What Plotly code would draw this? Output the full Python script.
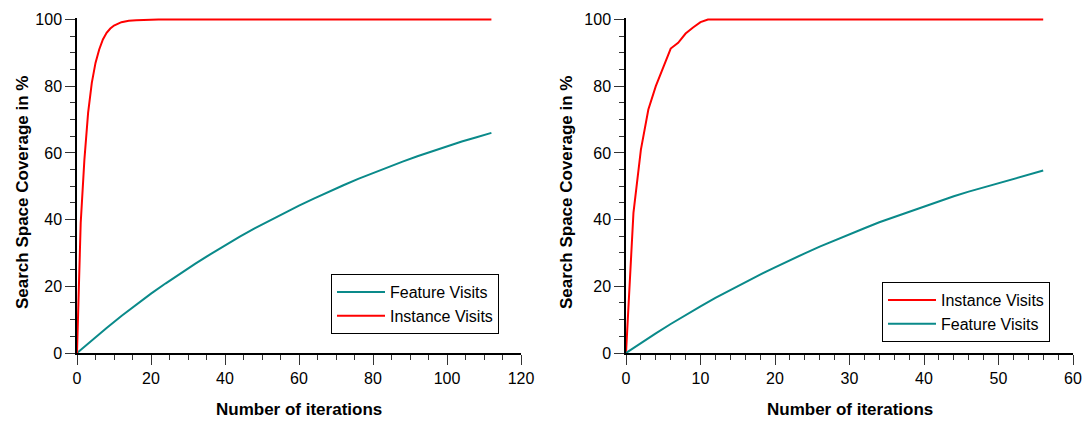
import plotly.graph_objects as go

# ---- Left panel data ----
left_inst_x = [0, 1, 2, 3, 4, 5, 6, 7, 8, 9, 10, 11, 12, 13, 14, 16, 18, 20, 22, 112]
left_inst_y = [0, 39, 58, 72, 81, 87, 91, 94, 96, 97.3, 98.2, 98.8, 99.2, 99.4, 99.6, 99.75, 99.85, 99.95, 100, 100]

left_feat_x = [0, 4, 8, 12, 16, 20, 24, 28, 32, 36, 40, 44, 48, 52, 56, 60, 64, 68, 72, 76,
               80, 84, 88, 92, 96, 100, 104, 108, 112]
left_feat_y = [0, 3.8, 7.5, 11.1, 14.5, 17.8, 20.9, 23.9, 26.8, 29.6, 32.3, 34.9, 37.4, 39.7,
               42.0, 44.2, 46.3, 48.4, 50.3, 52.2, 54.0, 55.7, 57.4, 59.0, 60.5, 62.0, 63.4,
               64.7, 66.0]

# ---- Right panel data ----
right_inst_x = [0, 1, 2, 3, 4, 5, 6, 7, 8, 9, 10, 11, 56]
right_inst_y = [0, 42, 61, 73, 80, 85.5, 91.3, 93, 95.8, 97.6, 99.2, 100, 100]

right_feat_x = [0, 2, 4, 6, 8, 10, 12, 14, 16, 18, 20, 22, 24, 26, 28, 30, 32, 34, 36, 38,
                40, 42, 44, 46, 48, 50, 52, 54, 56]
right_feat_y = [0, 3.0, 5.9, 8.7, 11.4, 14.0, 16.5, 18.9, 21.3, 23.5, 25.7, 27.9, 29.9, 31.9,
                33.8, 35.7, 37.4, 39.2, 40.8, 42.4, 44.0, 45.5, 47.0, 48.4, 49.7, 51.0, 52.3,
                53.5, 54.7]

RED = "#FF0000"
TEAL = "#0A8A8A"
FONT = "Arial, Liberation Sans, sans-serif"

fig = go.Figure()

fig.add_trace(go.Scatter(x=left_feat_x, y=left_feat_y, mode="lines", name="Feature Visits",
                         line=dict(color=TEAL, width=2), xaxis="x", yaxis="y", legend="legend"))
fig.add_trace(go.Scatter(x=left_inst_x, y=left_inst_y, mode="lines", name="Instance Visits",
                         line=dict(color=RED, width=2), xaxis="x", yaxis="y", legend="legend"))
fig.add_trace(go.Scatter(x=right_inst_x, y=right_inst_y, mode="lines", name="Instance Visits",
                         line=dict(color=RED, width=2), xaxis="x2", yaxis="y2", legend="legend2"))
fig.add_trace(go.Scatter(x=right_feat_x, y=right_feat_y, mode="lines", name="Feature Visits",
                         line=dict(color=TEAL, width=2), xaxis="x2", yaxis="y2", legend="legend2"))

W, H = 1084, 421
y_dom = [1 - 353 / H, 1 - 17.5 / H]

common_axis = dict(
    showline=True, linecolor="black", linewidth=1.5, mirror=False,
    ticks="outside", ticklen=10, tickwidth=1, tickcolor="#333",
    showgrid=False, zeroline=False, automargin=False,
    tickfont=dict(family=FONT, size=16, color="black"),
)

legend_common = dict(
    xanchor="left", yanchor="top",
    bgcolor="white", bordercolor="black", borderwidth=1,
    font=dict(family=FONT, size=16, color="black"), tracegroupgap=0,
    itemwidth=48,
)

fig.update_layout(
    width=W, height=H,
    margin=dict(l=0, r=0, t=0, b=0, pad=0),
    paper_bgcolor="white", plot_bgcolor="white",
    font=dict(family=FONT, size=16, color="black"),
    xaxis=dict(domain=[77 / W, 521 / W], range=[0, 120], dtick=20, anchor="y",
               minor=dict(ticks="outside", dtick=5, ticklen=5, tickcolor="#333"),
               **common_axis),
    yaxis=dict(domain=y_dom, range=[0, 100.6], dtick=20, anchor="x",
               minor=dict(ticks="outside", dtick=5, ticklen=5, tickcolor="#333"),
               **common_axis),
    xaxis2=dict(domain=[626 / W, 1073 / W], range=[0, 60], dtick=10, anchor="y2",
                minor=dict(ticks="outside", dtick=2, ticklen=5, tickcolor="#333"),
                **common_axis),
    yaxis2=dict(domain=y_dom, range=[0, 100.6], dtick=20, anchor="x2",
                minor=dict(ticks="outside", dtick=5, ticklen=5, tickcolor="#333"),
                **common_axis),
    legend=dict(x=331 / W, y=1 - 274 / H, **legend_common),
    legend2=dict(x=882 / W, y=1 - 282 / H, **legend_common),
    showlegend=True,
)

annotations = [
    dict(text="<b>Number of iterations</b>", x=(77 + 521) / 2 / W, y=1 - 409 / H,
         xref="paper", yref="paper", showarrow=False, xanchor="center", yanchor="middle",
         font=dict(family=FONT, size=17, color="black")),
    dict(text="<b>Number of iterations</b>", x=(626 + 1073) / 2 / W, y=1 - 409 / H,
         xref="paper", yref="paper", showarrow=False, xanchor="center", yanchor="middle",
         font=dict(family=FONT, size=17, color="black")),
    dict(text="<b>Search Space Coverage in %</b>", x=22 / W, y=1 - 193 / H,
         xref="paper", yref="paper", showarrow=False, xanchor="center", yanchor="middle",
         textangle=-90, font=dict(family=FONT, size=17, color="black")),
    dict(text="<b>Search Space Coverage in %</b>", x=566 / W, y=1 - 193 / H,
         xref="paper", yref="paper", showarrow=False, xanchor="center", yanchor="middle",
         textangle=-90, font=dict(family=FONT, size=17, color="black")),
]
fig.update_layout(annotations=annotations)

fig.write_html("out.html")
